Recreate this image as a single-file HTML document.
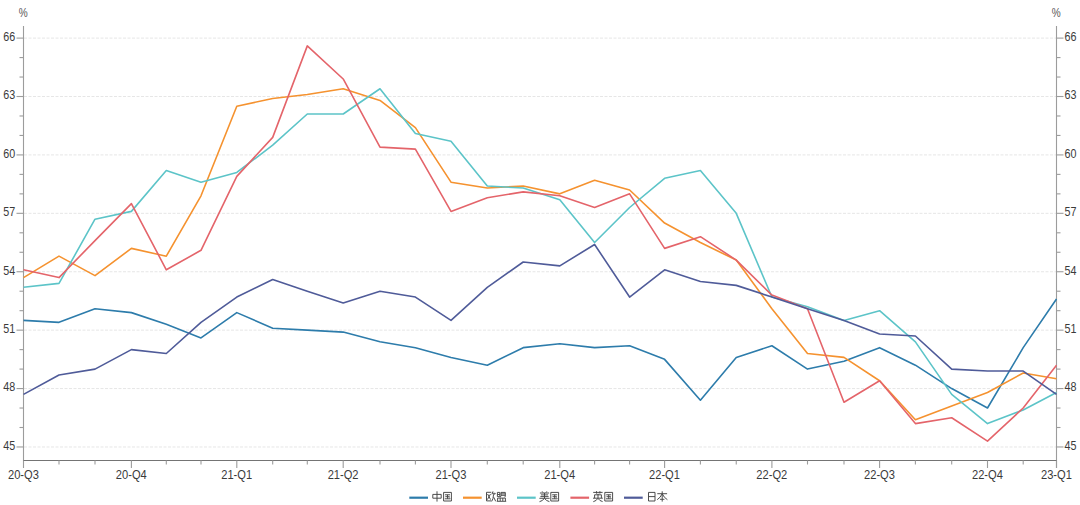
<!DOCTYPE html>
<html><head><meta charset="utf-8"><style>
html,body{margin:0;padding:0;background:#fff;width:1080px;height:505px;overflow:hidden}
svg{display:block}
.t{font-family:"Liberation Sans",sans-serif;font-size:12.5px;fill:#3a3a3a}
.p{font-family:"Liberation Sans",sans-serif;font-size:12px;fill:#555}
</style></head><body>
<svg width="1080" height="505" viewBox="0 0 1080 505">
<line x1="24" y1="446.97" x2="1056" y2="446.97" stroke="#e6e6e6" stroke-width="1" stroke-dasharray="3 1.5"/>
<line x1="24" y1="388.56" x2="1056" y2="388.56" stroke="#e6e6e6" stroke-width="1" stroke-dasharray="3 1.5"/>
<line x1="24" y1="330.15" x2="1056" y2="330.15" stroke="#e6e6e6" stroke-width="1" stroke-dasharray="3 1.5"/>
<line x1="24" y1="271.74" x2="1056" y2="271.74" stroke="#e6e6e6" stroke-width="1" stroke-dasharray="3 1.5"/>
<line x1="24" y1="213.33" x2="1056" y2="213.33" stroke="#e6e6e6" stroke-width="1" stroke-dasharray="3 1.5"/>
<line x1="24" y1="154.92" x2="1056" y2="154.92" stroke="#e6e6e6" stroke-width="1" stroke-dasharray="3 1.5"/>
<line x1="24" y1="96.51" x2="1056" y2="96.51" stroke="#e6e6e6" stroke-width="1" stroke-dasharray="3 1.5"/>
<line x1="24" y1="38.10" x2="1056" y2="38.10" stroke="#e6e6e6" stroke-width="1" stroke-dasharray="3 1.5"/>
<line x1="23.5" y1="26" x2="23.5" y2="461" stroke="#9c9c9c" stroke-width="1.1"/>
<line x1="1056.5" y1="26" x2="1056.5" y2="468" stroke="#9c9c9c" stroke-width="1.1"/>
<line x1="16.5" y1="446.97" x2="23.5" y2="446.97" stroke="#9c9c9c" stroke-width="1.1"/>
<line x1="1056.5" y1="446.97" x2="1063.5" y2="446.97" stroke="#9c9c9c" stroke-width="1.1"/>
<text transform="translate(15.30,449.87) scale(0.86,1)" text-anchor="end" class="t">45</text>
<text transform="translate(1064.50,449.87) scale(0.86,1)" text-anchor="start" class="t">45</text>
<line x1="19.5" y1="427.50" x2="23.5" y2="427.50" stroke="#9c9c9c" stroke-width="1.1"/>
<line x1="1056.5" y1="427.50" x2="1060.5" y2="427.50" stroke="#9c9c9c" stroke-width="1.1"/>
<line x1="19.5" y1="408.03" x2="23.5" y2="408.03" stroke="#9c9c9c" stroke-width="1.1"/>
<line x1="1056.5" y1="408.03" x2="1060.5" y2="408.03" stroke="#9c9c9c" stroke-width="1.1"/>
<line x1="16.5" y1="388.56" x2="23.5" y2="388.56" stroke="#9c9c9c" stroke-width="1.1"/>
<line x1="1056.5" y1="388.56" x2="1063.5" y2="388.56" stroke="#9c9c9c" stroke-width="1.1"/>
<text transform="translate(15.30,391.46) scale(0.86,1)" text-anchor="end" class="t">48</text>
<text transform="translate(1064.50,391.46) scale(0.86,1)" text-anchor="start" class="t">48</text>
<line x1="19.5" y1="369.09" x2="23.5" y2="369.09" stroke="#9c9c9c" stroke-width="1.1"/>
<line x1="1056.5" y1="369.09" x2="1060.5" y2="369.09" stroke="#9c9c9c" stroke-width="1.1"/>
<line x1="19.5" y1="349.62" x2="23.5" y2="349.62" stroke="#9c9c9c" stroke-width="1.1"/>
<line x1="1056.5" y1="349.62" x2="1060.5" y2="349.62" stroke="#9c9c9c" stroke-width="1.1"/>
<line x1="16.5" y1="330.15" x2="23.5" y2="330.15" stroke="#9c9c9c" stroke-width="1.1"/>
<line x1="1056.5" y1="330.15" x2="1063.5" y2="330.15" stroke="#9c9c9c" stroke-width="1.1"/>
<text transform="translate(15.30,333.05) scale(0.86,1)" text-anchor="end" class="t">51</text>
<text transform="translate(1064.50,333.05) scale(0.86,1)" text-anchor="start" class="t">51</text>
<line x1="19.5" y1="310.68" x2="23.5" y2="310.68" stroke="#9c9c9c" stroke-width="1.1"/>
<line x1="1056.5" y1="310.68" x2="1060.5" y2="310.68" stroke="#9c9c9c" stroke-width="1.1"/>
<line x1="19.5" y1="291.21" x2="23.5" y2="291.21" stroke="#9c9c9c" stroke-width="1.1"/>
<line x1="1056.5" y1="291.21" x2="1060.5" y2="291.21" stroke="#9c9c9c" stroke-width="1.1"/>
<line x1="16.5" y1="271.74" x2="23.5" y2="271.74" stroke="#9c9c9c" stroke-width="1.1"/>
<line x1="1056.5" y1="271.74" x2="1063.5" y2="271.74" stroke="#9c9c9c" stroke-width="1.1"/>
<text transform="translate(15.30,274.64) scale(0.86,1)" text-anchor="end" class="t">54</text>
<text transform="translate(1064.50,274.64) scale(0.86,1)" text-anchor="start" class="t">54</text>
<line x1="19.5" y1="252.27" x2="23.5" y2="252.27" stroke="#9c9c9c" stroke-width="1.1"/>
<line x1="1056.5" y1="252.27" x2="1060.5" y2="252.27" stroke="#9c9c9c" stroke-width="1.1"/>
<line x1="19.5" y1="232.80" x2="23.5" y2="232.80" stroke="#9c9c9c" stroke-width="1.1"/>
<line x1="1056.5" y1="232.80" x2="1060.5" y2="232.80" stroke="#9c9c9c" stroke-width="1.1"/>
<line x1="16.5" y1="213.33" x2="23.5" y2="213.33" stroke="#9c9c9c" stroke-width="1.1"/>
<line x1="1056.5" y1="213.33" x2="1063.5" y2="213.33" stroke="#9c9c9c" stroke-width="1.1"/>
<text transform="translate(15.30,216.23) scale(0.86,1)" text-anchor="end" class="t">57</text>
<text transform="translate(1064.50,216.23) scale(0.86,1)" text-anchor="start" class="t">57</text>
<line x1="19.5" y1="193.86" x2="23.5" y2="193.86" stroke="#9c9c9c" stroke-width="1.1"/>
<line x1="1056.5" y1="193.86" x2="1060.5" y2="193.86" stroke="#9c9c9c" stroke-width="1.1"/>
<line x1="19.5" y1="174.39" x2="23.5" y2="174.39" stroke="#9c9c9c" stroke-width="1.1"/>
<line x1="1056.5" y1="174.39" x2="1060.5" y2="174.39" stroke="#9c9c9c" stroke-width="1.1"/>
<line x1="16.5" y1="154.92" x2="23.5" y2="154.92" stroke="#9c9c9c" stroke-width="1.1"/>
<line x1="1056.5" y1="154.92" x2="1063.5" y2="154.92" stroke="#9c9c9c" stroke-width="1.1"/>
<text transform="translate(15.30,157.82) scale(0.86,1)" text-anchor="end" class="t">60</text>
<text transform="translate(1064.50,157.82) scale(0.86,1)" text-anchor="start" class="t">60</text>
<line x1="19.5" y1="135.45" x2="23.5" y2="135.45" stroke="#9c9c9c" stroke-width="1.1"/>
<line x1="1056.5" y1="135.45" x2="1060.5" y2="135.45" stroke="#9c9c9c" stroke-width="1.1"/>
<line x1="19.5" y1="115.98" x2="23.5" y2="115.98" stroke="#9c9c9c" stroke-width="1.1"/>
<line x1="1056.5" y1="115.98" x2="1060.5" y2="115.98" stroke="#9c9c9c" stroke-width="1.1"/>
<line x1="16.5" y1="96.51" x2="23.5" y2="96.51" stroke="#9c9c9c" stroke-width="1.1"/>
<line x1="1056.5" y1="96.51" x2="1063.5" y2="96.51" stroke="#9c9c9c" stroke-width="1.1"/>
<text transform="translate(15.30,99.41) scale(0.86,1)" text-anchor="end" class="t">63</text>
<text transform="translate(1064.50,99.41) scale(0.86,1)" text-anchor="start" class="t">63</text>
<line x1="19.5" y1="77.04" x2="23.5" y2="77.04" stroke="#9c9c9c" stroke-width="1.1"/>
<line x1="1056.5" y1="77.04" x2="1060.5" y2="77.04" stroke="#9c9c9c" stroke-width="1.1"/>
<line x1="19.5" y1="57.57" x2="23.5" y2="57.57" stroke="#9c9c9c" stroke-width="1.1"/>
<line x1="1056.5" y1="57.57" x2="1060.5" y2="57.57" stroke="#9c9c9c" stroke-width="1.1"/>
<line x1="16.5" y1="38.10" x2="23.5" y2="38.10" stroke="#9c9c9c" stroke-width="1.1"/>
<line x1="1056.5" y1="38.10" x2="1063.5" y2="38.10" stroke="#9c9c9c" stroke-width="1.1"/>
<text transform="translate(15.30,41.00) scale(0.86,1)" text-anchor="end" class="t">66</text>
<text transform="translate(1064.50,41.00) scale(0.86,1)" text-anchor="start" class="t">66</text>
<text transform="translate(23.30,16.90) scale(0.84,1)" text-anchor="middle" class="p">%</text>
<text transform="translate(1056.30,16.90) scale(0.84,1)" text-anchor="middle" class="p">%</text>
<line x1="23" y1="460.5" x2="1057" y2="460.5" stroke="#747474" stroke-width="1.1"/>
<line x1="23.5" y1="460.5" x2="23.5" y2="468.0" stroke="#9c9c9c" stroke-width="1.1"/>
<text transform="translate(23.40,479.10) scale(0.89,1)" text-anchor="middle" class="t">20-Q3</text>
<line x1="59.0" y1="460.5" x2="59.0" y2="464.5" stroke="#9c9c9c" stroke-width="1.1"/>
<line x1="95.0" y1="460.5" x2="95.0" y2="464.5" stroke="#9c9c9c" stroke-width="1.1"/>
<line x1="131.4" y1="460.5" x2="131.4" y2="468.0" stroke="#9c9c9c" stroke-width="1.1"/>
<text transform="translate(131.30,479.10) scale(0.89,1)" text-anchor="middle" class="t">20-Q4</text>
<line x1="166.3" y1="460.5" x2="166.3" y2="464.5" stroke="#9c9c9c" stroke-width="1.1"/>
<line x1="201.0" y1="460.5" x2="201.0" y2="464.5" stroke="#9c9c9c" stroke-width="1.1"/>
<line x1="236.8" y1="460.5" x2="236.8" y2="468.0" stroke="#9c9c9c" stroke-width="1.1"/>
<text transform="translate(236.70,479.10) scale(0.89,1)" text-anchor="middle" class="t">21-Q1</text>
<line x1="272.7" y1="460.5" x2="272.7" y2="464.5" stroke="#9c9c9c" stroke-width="1.1"/>
<line x1="307.3" y1="460.5" x2="307.3" y2="464.5" stroke="#9c9c9c" stroke-width="1.1"/>
<line x1="343.2" y1="460.5" x2="343.2" y2="468.0" stroke="#9c9c9c" stroke-width="1.1"/>
<text transform="translate(343.10,479.10) scale(0.89,1)" text-anchor="middle" class="t">21-Q2</text>
<line x1="380.0" y1="460.5" x2="380.0" y2="464.5" stroke="#9c9c9c" stroke-width="1.1"/>
<line x1="415.4" y1="460.5" x2="415.4" y2="464.5" stroke="#9c9c9c" stroke-width="1.1"/>
<line x1="451.0" y1="460.5" x2="451.0" y2="468.0" stroke="#9c9c9c" stroke-width="1.1"/>
<text transform="translate(450.90,479.10) scale(0.89,1)" text-anchor="middle" class="t">21-Q3</text>
<line x1="487.3" y1="460.5" x2="487.3" y2="464.5" stroke="#9c9c9c" stroke-width="1.1"/>
<line x1="523.2" y1="460.5" x2="523.2" y2="464.5" stroke="#9c9c9c" stroke-width="1.1"/>
<line x1="559.8" y1="460.5" x2="559.8" y2="468.0" stroke="#9c9c9c" stroke-width="1.1"/>
<text transform="translate(559.70,479.10) scale(0.89,1)" text-anchor="middle" class="t">21-Q4</text>
<line x1="594.6" y1="460.5" x2="594.6" y2="464.5" stroke="#9c9c9c" stroke-width="1.1"/>
<line x1="629.6" y1="460.5" x2="629.6" y2="464.5" stroke="#9c9c9c" stroke-width="1.1"/>
<line x1="664.6" y1="460.5" x2="664.6" y2="468.0" stroke="#9c9c9c" stroke-width="1.1"/>
<text transform="translate(664.50,479.10) scale(0.89,1)" text-anchor="middle" class="t">22-Q1</text>
<line x1="700.4" y1="460.5" x2="700.4" y2="464.5" stroke="#9c9c9c" stroke-width="1.1"/>
<line x1="736.25" y1="460.5" x2="736.25" y2="464.5" stroke="#9c9c9c" stroke-width="1.1"/>
<line x1="771.9" y1="460.5" x2="771.9" y2="468.0" stroke="#9c9c9c" stroke-width="1.1"/>
<text transform="translate(771.80,479.10) scale(0.89,1)" text-anchor="middle" class="t">22-Q2</text>
<line x1="807.5" y1="460.5" x2="807.5" y2="464.5" stroke="#9c9c9c" stroke-width="1.1"/>
<line x1="844.0" y1="460.5" x2="844.0" y2="464.5" stroke="#9c9c9c" stroke-width="1.1"/>
<line x1="879.6" y1="460.5" x2="879.6" y2="468.0" stroke="#9c9c9c" stroke-width="1.1"/>
<text transform="translate(879.50,479.10) scale(0.89,1)" text-anchor="middle" class="t">22-Q3</text>
<line x1="915.4" y1="460.5" x2="915.4" y2="464.5" stroke="#9c9c9c" stroke-width="1.1"/>
<line x1="951.7" y1="460.5" x2="951.7" y2="464.5" stroke="#9c9c9c" stroke-width="1.1"/>
<line x1="987.5" y1="460.5" x2="987.5" y2="468.0" stroke="#9c9c9c" stroke-width="1.1"/>
<text transform="translate(987.40,479.10) scale(0.89,1)" text-anchor="middle" class="t">22-Q4</text>
<line x1="1023.2" y1="460.5" x2="1023.2" y2="464.5" stroke="#9c9c9c" stroke-width="1.1"/>
<line x1="1056.5" y1="460.5" x2="1056.5" y2="468.0" stroke="#9c9c9c" stroke-width="1.1"/>
<text transform="translate(1056.40,479.10) scale(0.89,1)" text-anchor="middle" class="t">23-Q1</text>
<polyline points="23.50,320.42 59.00,322.36 95.00,308.73 131.40,312.63 166.30,324.31 201.00,337.94 236.80,312.63 272.70,328.20 307.30,330.15 343.20,332.10 380.00,341.83 415.40,347.67 451.00,357.41 487.30,365.20 523.20,347.67 559.80,343.78 594.60,347.67 629.60,345.73 664.60,359.36 700.40,400.24 736.25,357.41 771.90,345.73 807.50,369.09 844.00,361.30 879.60,347.67 915.40,365.20 951.70,388.56 987.50,408.03 1023.20,347.67 1056.50,299.00" fill="none" stroke="#2d7cab" stroke-width="1.6" stroke-linejoin="round"/>
<polyline points="23.50,277.58 59.00,256.16 95.00,275.63 131.40,248.38 166.30,256.16 201.00,195.81 236.80,106.25 272.70,98.46 307.30,94.56 343.20,88.72 380.00,100.40 415.40,127.66 451.00,182.18 487.30,188.02 523.20,186.07 559.80,193.86 594.60,180.23 629.60,189.97 664.60,223.06 700.40,242.53 736.25,260.06 771.90,308.73 807.50,353.51 844.00,357.41 879.60,380.77 915.40,419.71 951.70,406.08 987.50,392.45 1023.20,372.98 1056.50,378.82" fill="none" stroke="#f5922f" stroke-width="1.6" stroke-linejoin="round"/>
<polyline points="23.50,287.32 59.00,283.42 95.00,219.17 131.40,211.38 166.30,170.50 201.00,182.18 236.80,172.44 272.70,145.19 307.30,114.03 343.20,114.03 380.00,88.72 415.40,133.50 451.00,141.29 487.30,186.07 523.20,188.02 559.80,199.70 594.60,242.53 629.60,207.49 664.60,178.28 700.40,170.50 736.25,213.33 771.90,297.05 807.50,306.79 844.00,320.42 879.60,310.68 915.40,341.83 951.70,394.40 987.50,423.61 1023.20,409.98 1056.50,392.45" fill="none" stroke="#5cc4c8" stroke-width="1.6" stroke-linejoin="round"/>
<polyline points="23.50,269.79 59.00,277.58 95.00,240.59 131.40,203.59 166.30,269.79 201.00,250.32 236.80,176.34 272.70,137.40 307.30,45.89 343.20,78.99 380.00,147.13 415.40,149.08 451.00,211.38 487.30,197.75 523.20,191.91 559.80,195.81 594.60,207.49 629.60,193.86 664.60,248.38 700.40,236.69 736.25,260.06 771.90,295.10 807.50,308.73 844.00,402.19 879.60,380.77 915.40,423.61 951.70,417.76 987.50,441.13 1023.20,408.03 1056.50,365.20" fill="none" stroke="#e4646a" stroke-width="1.6" stroke-linejoin="round"/>
<polyline points="23.50,394.40 59.00,374.93 95.00,369.09 131.40,349.62 166.30,353.51 201.00,322.36 236.80,297.05 272.70,279.53 307.30,291.21 343.20,302.89 380.00,291.21 415.40,297.05 451.00,320.42 487.30,287.32 523.20,262.00 559.80,265.90 594.60,244.48 629.60,297.05 664.60,269.79 700.40,281.48 736.25,285.37 771.90,297.05 807.50,308.73 844.00,320.42 879.60,334.04 915.40,335.99 951.70,369.09 987.50,371.04 1023.20,371.04 1056.50,394.40" fill="none" stroke="#4f5b99" stroke-width="1.6" stroke-linejoin="round"/>
<line x1="409.3" y1="497.7" x2="428.0" y2="497.7" stroke="#2d7cab" stroke-width="2.2"/>
<line x1="463.0" y1="497.7" x2="481.7" y2="497.7" stroke="#f5922f" stroke-width="2.2"/>
<line x1="517.0" y1="497.7" x2="535.7" y2="497.7" stroke="#5cc4c8" stroke-width="2.2"/>
<line x1="570.4" y1="497.7" x2="589.1" y2="497.7" stroke="#e4646a" stroke-width="2.2"/>
<line x1="624.0" y1="497.7" x2="642.7" y2="497.7" stroke="#4f5b99" stroke-width="2.2"/>
<g fill="none" stroke="#454545" stroke-width="0.95" stroke-linecap="butt">
<path d="M432.8,494.4H441.2V498.2H432.8Z M437,491.3V501.6"/>
<path d="M443.6,492.4H451.4V501H443.6Z M445,494.8H450 M445.3,496.7H449.7 M444.8,498.8H450.2 M447.5,494.8V498.8 M449,497.4l0.9,0.9"/>
<path d="M491.3,492.3H486.5V500.9H491.3 M487.6,494L490.6,499.6 M490.5,494L487.4,499.6 M493,491.4L491.9,494.4 M492.6,493.3H495.3L494.6,494.6 M493.6,494.2Q493.4,499 491.7,501.4 M493.7,497.2L495.7,501.3"/>
<path d="M497.4,492.4H499.8V496.6H497.4Z M497.4,494.5H499.8 M501,492.4H505.3V496.4Q505.3,497 504.6,497 M501,492.4V495.8L500.2,497.4 M501,493.9H505.3 M501,495.3H505.3 M497.6,501V498.1H505.4V501 M500.2,498.1V501 M502.8,498.1V501 M496.8,501.3H506.2"/>
<path d="M542.2,491.4L543,492.6 M546.8,491.4L546,492.6 M539.9,493H549.1 M540.9,494.9H548.1 M540.4,496.6H548.6 M539.4,498.3H549.6 M544.5,493V498.3 M544.3,498.4Q543,500.8 539.5,501.7 M544.7,498.6Q546,500.8 549.4,501.6"/>
<path d="M550.8,492.4H558.6V501H550.8Z M552.2,494.8H557.2 M552.5,496.7H556.9 M552,498.8H557.4 M554.7,494.8V498.8 M556.2,497.4l0.9,0.9"/>
<path d="M593.2,492.4H602.6 M596.5,491.2V493.6 M599.9,491.2V493.6 M594.6,498.1V494.8H601.4V498.1 M598,493.7V498.2 M593,498.2H602.8 M597.8,498.4Q596.6,500.8 593.3,501.7 M598.2,498.6Q599.6,500.9 602.6,501.6"/>
<path d="M604.8,492.4H612.6V501H604.8Z M606.2,494.8H611.2 M606.5,496.7H610.9 M606,498.8H611.4 M608.7,494.8V498.8 M610.2,497.4l0.9,0.9"/>
<path d="M648.5,492.4H655V501H648.5Z M648.5,496.6H655"/>
<path d="M657.3,493.7H667.1 M662.2,491.3V501.6 M662,494Q660.5,497.6 657.2,499.7 M662.4,494Q663.9,497.6 667.4,499.7 M660,499.3H664.4"/>
</g>

</svg></body></html>
